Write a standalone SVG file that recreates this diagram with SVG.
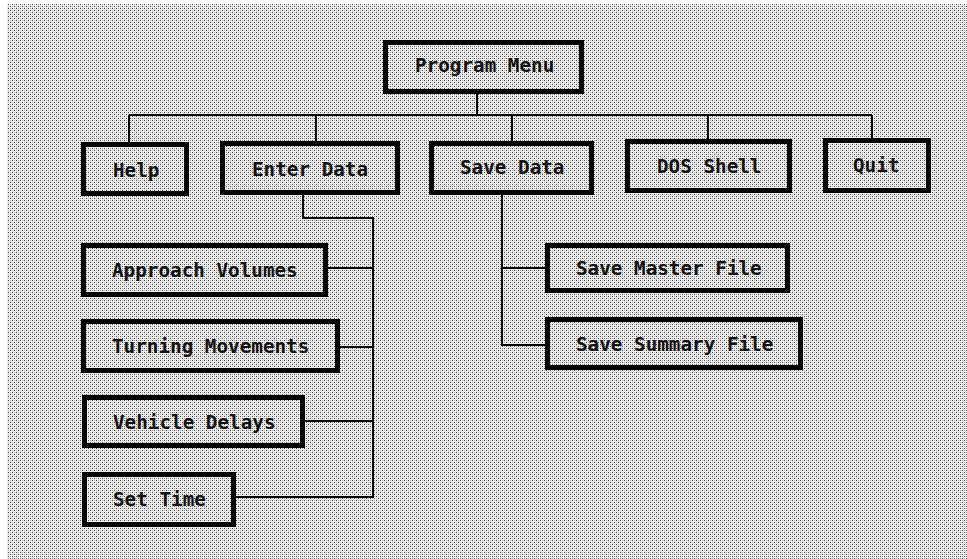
<svg xmlns="http://www.w3.org/2000/svg" width="967" height="559" viewBox="0 0 967 559">
<defs>
<pattern id="dither" x="0" y="0" width="4" height="4" patternUnits="userSpaceOnUse">
<rect width="4" height="4" fill="#ececec"/>
<rect x="0" y="0" width="1" height="1" fill="#505050"/>
<rect x="2" y="2" width="1" height="1" fill="#505050"/>
<rect x="2" y="0" width="1" height="1" fill="#b0b0b0"/>
<rect x="0" y="2" width="1" height="1" fill="#b0b0b0"/>
</pattern>
</defs>
<style>
.box{fill:none;stroke:#000;stroke-width:5}
.lbl{font-family:"DejaVu Sans Mono","Liberation Mono",monospace;font-weight:bold;font-size:19.3px;fill:#111}
.con{fill:none;stroke:#000;stroke-width:2}
</style>
<rect width="967" height="559" fill="#ffffff"/>
<rect x="7" y="4" width="960" height="555" fill="url(#dither)"/>
<g id="connectors">
<path class="con" d="M477,94 V115 M129,115 H872 M129,115 V142 M316,115 V141 M512,115 V141 M708,115 V139 M872,115 V138"/>
<path class="con" d="M303,195 V218 H373 V497 H236 M328,268 H373 M340,347 H373 M305,421 H373"/>
<path class="con" d="M502,195 V345 H545 M502,268 H545"/>
</g>
<g id="program-menu"><rect class="box" x="385.5" y="42.5" width="196" height="49"/><text class="lbl" x="415" y="72">Program Menu</text></g>
<g id="help"><rect class="box" x="83.5" y="144.5" width="103" height="49"/><text class="lbl" x="113" y="177">Help</text></g>
<g id="enter-data"><rect class="box" x="222.5" y="143.5" width="175" height="49"/><text class="lbl" x="252" y="176">Enter Data</text></g>
<g id="save-data"><rect class="box" x="431.5" y="143.5" width="160" height="49"/><text class="lbl" x="460" y="174">Save Data</text></g>
<g id="dos-shell"><rect class="box" x="627.5" y="141.5" width="162" height="49"/><text class="lbl" x="657" y="173">DOS Shell</text></g>
<g id="quit"><rect class="box" x="825.5" y="140.5" width="103" height="50"/><text class="lbl" x="853" y="172">Quit</text></g>
<g id="approach-volumes"><rect class="box" x="83.5" y="245.5" width="242" height="49"/><text class="lbl" x="112" y="277">Approach Volumes</text></g>
<g id="turning-movements"><rect class="box" x="83.5" y="321.5" width="254" height="49"/><text class="lbl" x="112" y="353">Turning Movements</text></g>
<g id="vehicle-delays"><rect class="box" x="84.5" y="397.5" width="218" height="48"/><text class="lbl" x="113" y="429">Vehicle Delays</text></g>
<g id="set-time"><rect class="box" x="84.5" y="474.5" width="149" height="50"/><text class="lbl" x="113" y="506">Set Time</text></g>
<g id="save-master-file"><rect class="box" x="547.5" y="245.5" width="240" height="45"/><text class="lbl" x="576" y="275">Save Master File</text></g>
<g id="save-summary-file"><rect class="box" x="547.5" y="319.5" width="253" height="48"/><text class="lbl" x="576" y="351">Save Summary File</text></g>
</svg>
